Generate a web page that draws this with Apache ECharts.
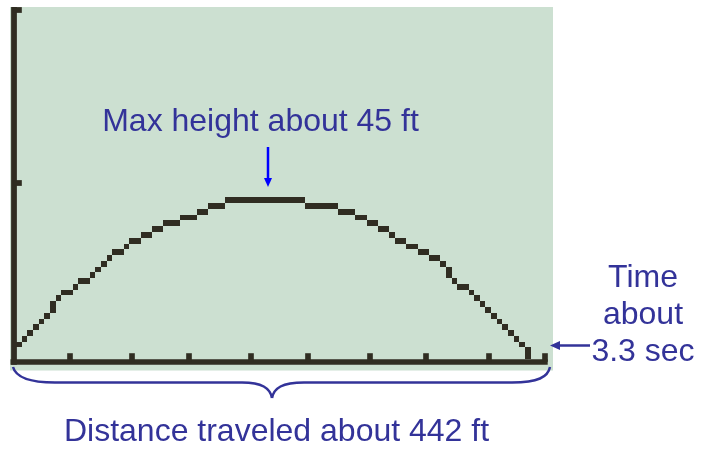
<!DOCTYPE html>
<html>
<head>
<meta charset="utf-8">
<script src="https://cdn.jsdelivr.net/npm/echarts@6/dist/echarts.min.js"></script>
<style>
    html, body { margin: 0; padding: 0; background: #ffffff; }
    #chart { width: 701px; height: 451px; }
</style>
</head>
<body>
<div id="chart"></div>
<script>
    // calculator screen: 95 x 63 pixels, x axis drawn on row 0 (one row above the bottom)
    const firstCol = 1;
    // lit pixel rows of the graph, column by column (top and bottom of each column's run)
    const rowTop = [3,4,5,6,7,8,10,11,12,12,13,14,14,15,16,17,18,19,19,20,21,21,22,22,23,23,24,24,24,25,25,25,26,26,27,27,27,
        28,28,28,28,28,28,28,28,28,28,28,28,28,28,
        27,27,27,27,27,27,26,26,26,25,25,24,24,23,23,22,21,21,20,20,19,19,18,18,17,16,14,13,13,12,11,10,9,8,7,6,5,4,3,2];
    const rowBottom = [3,4,5,6,7,8,9,11,12,12,13,14,14,15,16,17,18,19,19,20,21,21,22,22,23,23,24,24,24,25,25,25,26,26,27,27,27,
        28,28,28,28,28,28,28,28,28,28,28,28,28,28,
        27,27,27,27,27,27,26,26,26,25,25,24,24,23,23,22,21,21,20,20,19,19,18,18,17,15,14,13,13,12,11,10,9,8,7,6,5,4,3,1];
    const xTickCols = [10, 21, 31, 42, 52, 63, 73, 84, 94];
    const yTickRows = [31, 61];

    const screenColor = '#cce0d1';
    const inkColor = '#302d22';
    const noteColor = '#333399';
    const noteFont = '32px "Liberation Sans", Arial, sans-serif';

    let pixelData = rowTop.map(function (top, i) {
        return [firstCol + i, rowBottom[i], top];
    });

    let option = {
        animation: false,
        grid: {
            left: 10.5,
            top: 7,
            width: 537.2,
            height: 357.7
        },
        xAxis: {
            type: 'value',
            min: -0.5,
            max: 94.5,
            axisLine: {
                onZero: true,
                lineStyle: { color: inkColor, width: 5.66, cap: 'butt' }
            },
            axisTick: {
                inside: true,
                length: 8.6,
                customValues: xTickCols,
                lineStyle: { color: inkColor, width: 5.66, cap: 'butt' }
            },
            axisLabel: { show: false },
            splitLine: { show: false }
        },
        yAxis: {
            type: 'value',
            min: -0.5,
            max: 61.5,
            axisLine: {
                onZero: true,
                lineStyle: { color: inkColor, width: 5.77, cap: 'butt' }
            },
            axisTick: {
                inside: true,
                length: 8.5,
                customValues: yTickRows,
                lineStyle: { color: inkColor, width: 5.77, cap: 'butt' }
            },
            axisLabel: { show: false },
            splitLine: { show: false }
        },
        graphic: [
            {
                type: 'rect',
                z: -10,
                silent: true,
                shape: { x: 10, y: 7, width: 543, height: 363.4 },
                style: { fill: screenColor }
            },
            {
                type: 'text',
                style: { text: 'Max height about 45 ft', x: 260.5, y: 122, textAlign: 'center', textVerticalAlign: 'middle', font: noteFont, fill: noteColor }
            },
            {
                type: 'line',
                shape: { x1: 268, y1: 147, x2: 268, y2: 180 },
                style: { stroke: '#0000ff', lineWidth: 2.5 }
            },
            {
                type: 'polygon',
                shape: { points: [[264, 178], [272, 178], [268, 187]] },
                style: { fill: '#0000ff' }
            },
            {
                type: 'text',
                style: { text: 'Time', x: 643, y: 278, textAlign: 'center', textVerticalAlign: 'middle', font: noteFont, fill: noteColor }
            },
            {
                type: 'text',
                style: { text: 'about', x: 643, y: 315, textAlign: 'center', textVerticalAlign: 'middle', font: noteFont, fill: noteColor }
            },
            {
                type: 'text',
                style: { text: '3.3 sec', x: 643, y: 352, textAlign: 'center', textVerticalAlign: 'middle', font: noteFont, fill: noteColor }
            },
            {
                type: 'line',
                shape: { x1: 590, y1: 345.5, x2: 558, y2: 345.5 },
                style: { stroke: noteColor, lineWidth: 2.5 }
            },
            {
                type: 'polygon',
                shape: { points: [[550, 345.5], [560, 341], [560, 350]] },
                style: { fill: noteColor }
            },
            // brace under the screen
            {
                type: 'bezierCurve',
                shape: { x1: 13, y1: 367, cpx1: 16, cpy1: 378, cpx2: 30, cpy2: 382.5, x2: 55, y2: 382.5 },
                style: { stroke: noteColor, lineWidth: 2.5, fill: null }
            },
            {
                type: 'line',
                shape: { x1: 55, y1: 382.5, x2: 242, y2: 382.5 },
                style: { stroke: noteColor, lineWidth: 2.5 }
            },
            {
                type: 'bezierCurve',
                shape: { x1: 242, y1: 382.5, cpx1: 262, cpy1: 382.5, cpx2: 270, cpy2: 388, x2: 272, y2: 398 },
                style: { stroke: noteColor, lineWidth: 2.5, fill: null }
            },
            {
                type: 'bezierCurve',
                shape: { x1: 272, y1: 398, cpx1: 274, cpy1: 388, cpx2: 282, cpy2: 382.5, x2: 304, y2: 382.5 },
                style: { stroke: noteColor, lineWidth: 2.5, fill: null }
            },
            {
                type: 'line',
                shape: { x1: 304, y1: 382.5, x2: 512, y2: 382.5 },
                style: { stroke: noteColor, lineWidth: 2.5 }
            },
            {
                type: 'bezierCurve',
                shape: { x1: 512, y1: 382.5, cpx1: 538, cpy1: 382.5, cpx2: 548, cpy2: 377, x2: 550, y2: 367 },
                style: { stroke: noteColor, lineWidth: 2.5, fill: null }
            },
            {
                type: 'text',
                style: { text: 'Distance traveled about 442 ft', x: 276.5, y: 432, textAlign: 'center', textVerticalAlign: 'middle', font: noteFont, fill: noteColor }
            }
        ],
        series: [
            {
                type: 'custom',
                name: 'graph',
                silent: true,
                renderItem: function (params, api) {
                    let c = api.value(0);
                    let lo = api.value(1);
                    let hi = api.value(2);
                    let p1 = api.coord([c - 0.5, hi + 0.5]);
                    let p2 = api.coord([c + 0.5, lo - 0.5]);
                    let x1 = Math.round(p1[0]), y1 = Math.round(p1[1]);
                    let x2 = Math.round(p2[0]), y2 = Math.round(p2[1]);
                    return {
                        type: 'rect',
                        shape: { x: x1, y: y1, width: x2 - x1, height: y2 - y1 },
                        style: { fill: inkColor }
                    };
                },
                encode: { x: 0, y: [1, 2] },
                data: pixelData
            }
        ]
    };

    let myChart = echarts.init(document.getElementById('chart'));
    myChart.setOption(option);
</script>
</body>
</html>
